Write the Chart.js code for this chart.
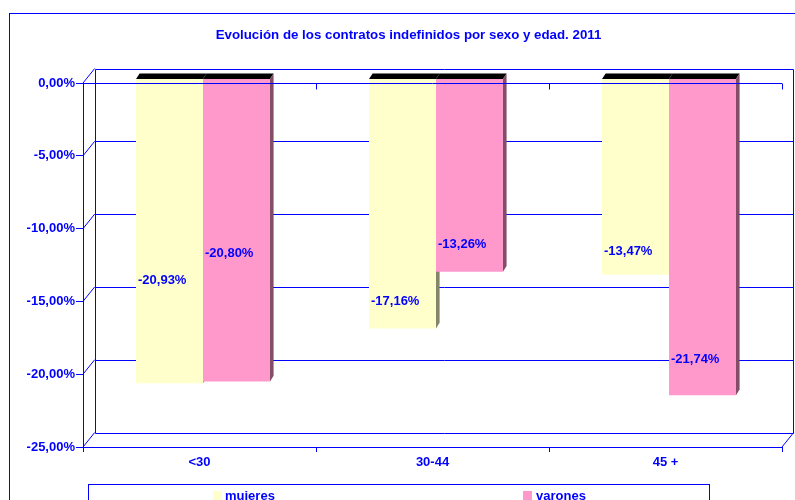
<!DOCTYPE html>
<html>
<head>
<meta charset="utf-8">
<script src="https://cdn.jsdelivr.net/npm/chart.js@4/dist/chart.umd.min.js"></script>
<style>
  html, body { margin: 0; padding: 0; background: #fff; }
  #wrap { width: 795px; height: 500px; }
</style>
</head>
<body>
<div id="wrap"><canvas id="canvas" width="795" height="500"></canvas></div>
<script>
// datos
var edades = ['<30', '30-44', '45 +'];
var mujeres = [-20.93, -17.16, -13.47];
var varones = [-20.80, -13.26, -21.74];
var titulo = 'Evolución de los contratos indefinidos por sexo y edad. 2011';

var AZUL = '#0000ff';
var FUENTE = '"Liberation Sans", Arial, sans-serif';
// desplazamiento 3D
var DX = 3.5, DY = -4.4;      // plano de las barras
var BX = 11.7, BY = -14.5;    // pared del fondo
var PX = 3.6, PY = -5.6;      // profundidad de la barra
// altura de cada etiqueta (en % del eje)
var posEtiq = [[-13.85, -15.27, -11.86], [-11.98, -11.4, -19.28]];
var lados = ['#85856a', '#834c67'];

function fmt(v) {
  return v.toFixed(2).replace('.', ',') + '%';
}

var plano3d = {
  id: 'plano3d',
  beforeDraw: function (chart) {
    var ctx = chart.ctx, a = chart.chartArea, y = chart.scales.y;
    ctx.save();
    ctx.fillStyle = '#fff';
    ctx.fillRect(0, 0, chart.width, chart.height);
    ctx.strokeStyle = AZUL;
    ctx.lineWidth = 1;
    ctx.strokeRect(9.5, 13.5, 900, 600);
    ctx.fillStyle = AZUL;
    ctx.font = 'bold 13.3px ' + FUENTE;
    ctx.textAlign = 'center';
    ctx.textBaseline = 'middle';
    ctx.fillText(titulo, 408.5, 35);
    // pared del fondo
    var l = Math.round(a.left + BX) + 0.5, r = 793.5;
    var t = Math.round(a.top + BY) + 0.5, b = Math.round(a.bottom + BY) + 0.5;
    ctx.beginPath();
    ctx.rect(l, t, r - l, b - t);
    for (var v = -5; v > -25; v -= 5) {
      var py = Math.round(y.getPixelForValue(v) + BY) + 0.5;
      ctx.moveTo(l, py); ctx.lineTo(r, py);
    }
    for (var v2 = 0; v2 >= -25; v2 -= 5) {
      var fy = y.getPixelForValue(v2);
      ctx.moveTo(a.left, fy); ctx.lineTo(a.left + BX, fy + BY);
    }
    ctx.moveTo(a.right, a.bottom); ctx.lineTo(a.right + BX, a.bottom + BY);
    ctx.stroke();
    ctx.restore();
  },
  beforeDatasetsDraw: function (chart) {
    var ctx = chart.ctx;
    ctx.save();
    chart.data.datasets.forEach(function (ds, i) {
      chart.getDatasetMeta(i).data.forEach(function (el) {
        var x0 = el.x - el.width / 2 + DX, x1 = el.x + el.width / 2 + DX;
        var top = el.base + DY, bot = el.y + DY;
        // cara superior
        ctx.fillStyle = '#000';
        ctx.beginPath();
        ctx.moveTo(x0, top); ctx.lineTo(x0 + PX, top + PY);
        ctx.lineTo(x1 + PX, top + PY); ctx.lineTo(x1, top);
        ctx.closePath(); ctx.fill();
        // cara lateral
        ctx.fillStyle = lados[i];
        ctx.beginPath();
        ctx.moveTo(x1, top); ctx.lineTo(x1 + PX, top + PY);
        ctx.lineTo(x1 + PX, bot + PY); ctx.lineTo(x1, bot);
        ctx.closePath(); ctx.fill();
      });
    });
    ctx.restore();
    ctx.save();
    ctx.translate(DX, DY);
  },
  afterDatasetsDraw: function (chart) {
    var ctx = chart.ctx, a = chart.chartArea, x = chart.scales.x, y = chart.scales.y;
    ctx.restore();
    ctx.save();
    // linea del cero, delante de las barras
    var zy = Math.round(y.getPixelForValue(0)) + 0.5;
    ctx.strokeStyle = AZUL;
    ctx.lineWidth = 1;
    ctx.beginPath();
    ctx.moveTo(a.left, zy); ctx.lineTo(a.right, zy);
    for (var k = 0; k <= edades.length; k++) {
      var tx = Math.round(a.left + k * (a.right - a.left) / edades.length) + 0.5;
      ctx.moveTo(tx, zy); ctx.lineTo(tx, zy + 6);
    }
    ctx.stroke();
    // etiquetas
    ctx.fillStyle = AZUL;
    ctx.font = 'bold 13px ' + FUENTE;
    ctx.textAlign = 'left';
    ctx.textBaseline = 'middle';
    chart.data.datasets.forEach(function (ds, i) {
      chart.getDatasetMeta(i).data.forEach(function (el, j) {
        var lx = el.x - el.width / 2 + DX + 2;
        var ly = y.getPixelForValue(posEtiq[i][j]) + DY;
        ctx.fillText(fmt(ds.data[j]), lx, ly);
      });
    });
    // leyenda
    ctx.strokeRect(88.5, 484.5, 621, 40);
    var items = [[213, 225], [523, 536]];
    chart.data.datasets.forEach(function (ds, i) {
      ctx.fillStyle = ds.backgroundColor;
      ctx.fillRect(items[i][0], 491, 9, 9);
      ctx.fillStyle = AZUL;
      ctx.textBaseline = 'alphabetic';
      ctx.fillText(ds.label, items[i][1], 500);
    });
    ctx.restore();
  }
};

new Chart(document.getElementById('canvas').getContext('2d'), {
  type: 'bar',
  data: {
    labels: edades,
    datasets: [
      { label: 'mujeres', data: mujeres, backgroundColor: '#ffffcc', borderWidth: 0, clip: false },
      { label: 'varones', data: varones, backgroundColor: '#ff99cc', borderWidth: 0, clip: false }
    ]
  },
  options: {
    responsive: false,
    animation: false,
    layout: { padding: { top: 83, right: 13, left: 0, bottom: 0 } },
    datasets: { bar: { barPercentage: 1, categoryPercentage: 0.575 } },
    plugins: { legend: { display: false }, title: { display: false }, tooltip: { enabled: false } },
    scales: {
      x: {
        afterFit: function (s) { s.height = 53; },
        grid: { offset: true, drawOnChartArea: false, tickLength: 5, color: AZUL },
        border: { color: AZUL },
        ticks: { color: AZUL, padding: 3, font: { family: FUENTE, size: 13, weight: 'bold' } }
      },
      y: {
        min: -25,
        max: 0,
        afterFit: function (s) { s.width = 83; },
        grid: { drawOnChartArea: false, tickLength: 7, color: AZUL },
        border: { color: AZUL },
        ticks: {
          stepSize: 5, color: AZUL, padding: 1,
          font: { family: FUENTE, size: 13, weight: 'bold' },
          callback: function (v) { return fmt(v); }
        }
      }
    }
  },
  plugins: [plano3d]
});
</script>
</body>
</html>
